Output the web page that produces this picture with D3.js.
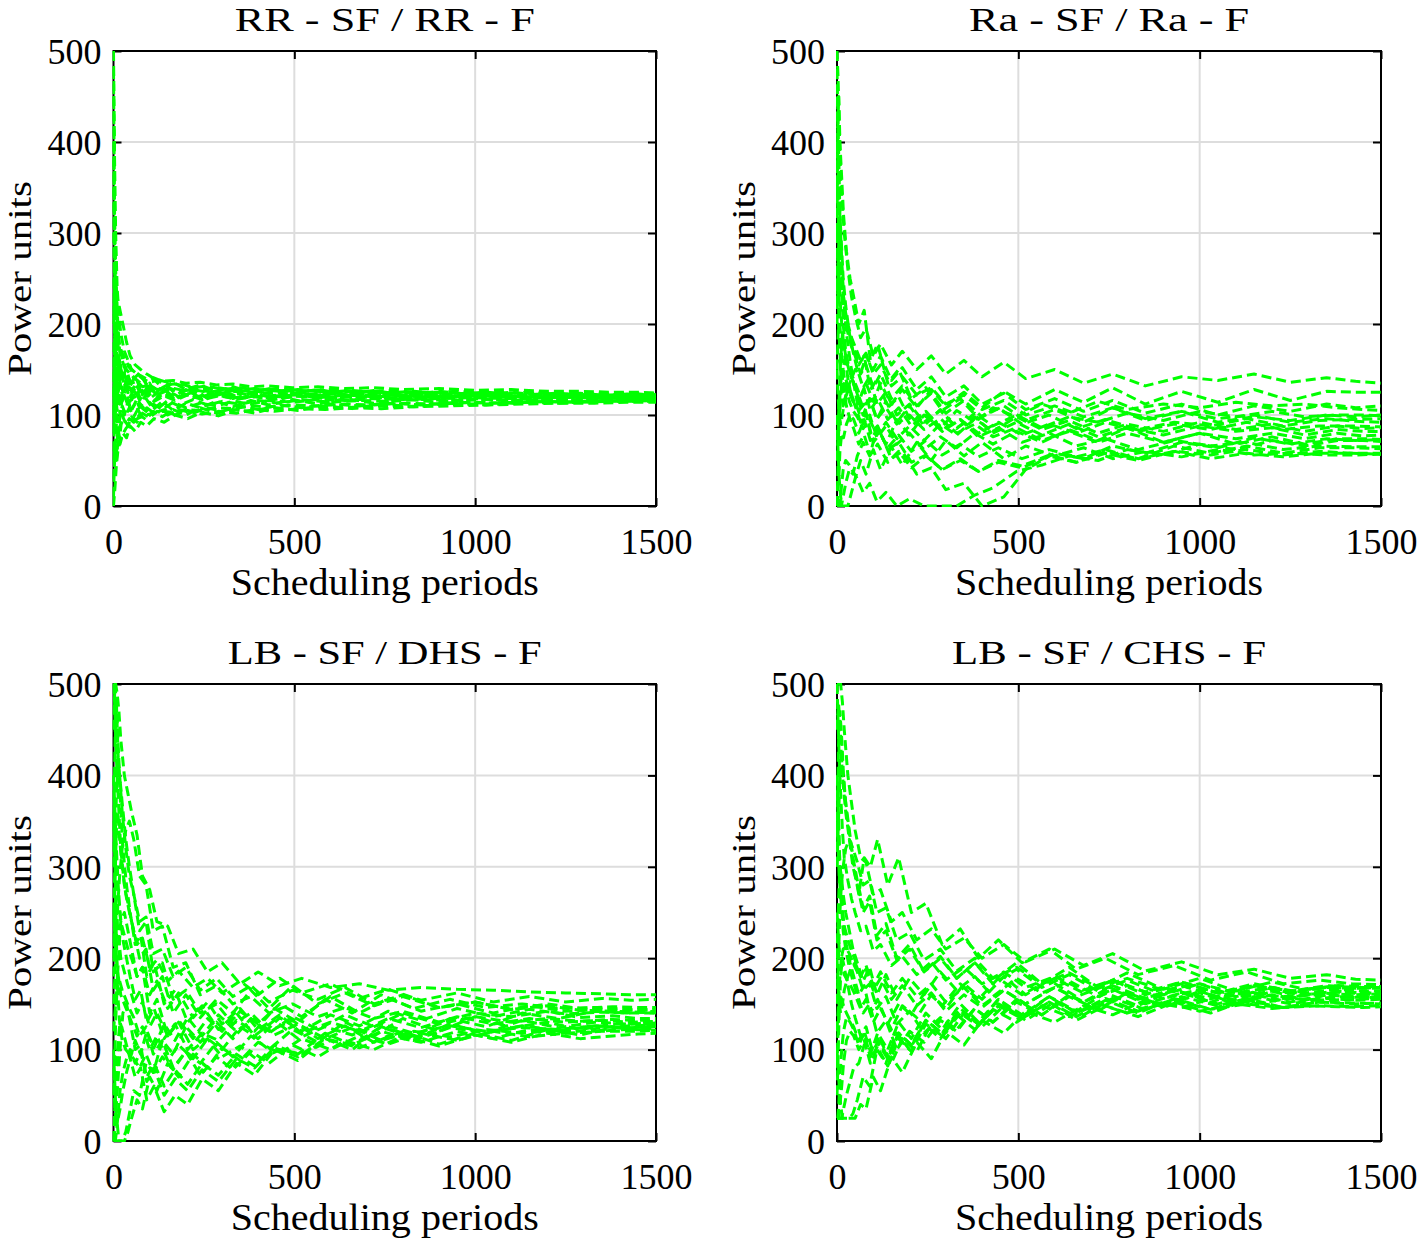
<!DOCTYPE html>
<html>
<head>
<meta charset="utf-8">
<script src="https://cdn.jsdelivr.net/npm/d3@7"></script>
<style>
  html, body { margin: 0; padding: 0; background: #fff; }
  svg { display: block; }
  text { font-family: "Liberation Serif", "Times New Roman", serif; fill: #000; }
</style>
</head>
<body>
<svg id="chart" width="1418" height="1238"></svg>
<script>
// ---------- data ----------
// three sampling grids (the runs were sampled at slightly different periods)
const xPointsA = [0,3,6,10,15,20,30,40,50,65,80,100,120,150,180,220,260,300,350,400,460,520,600,680,760,850,950,1050,1150,1250,1350,1430,1500];
const xPointsB = [0,4,8,12,17,24,34,44,56,72,90,110,135,165,200,240,285,330,380,430,495,565,640,720,800,900,1000,1100,1200,1290,1380,1450,1500];
const xPointsC = [0,2,5,8,13,18,26,36,46,60,75,92,112,140,170,205,245,290,340,390,445,510,585,660,740,830,930,1030,1130,1230,1330,1420,1500];
const xTicks = [0, 500, 1000, 1500];
const yTicks = [0, 100, 200, 300, 400, 500];
const panelTitles = ["RR - SF / RR - F", "Ra - SF / Ra - F", "LB - SF / DHS - F", "LB - SF / CHS - F"];
const xLabel = "Scheduling periods";
const yLabel = "Power units";

const rrSeries = [
  [500,380,300,240,210,190,170,160,150,145,140,136,138,133,135,130,132,128,130,127,129,126,128,125,127,124,126,123,125,122,123,121,122],
  [0,20,45,60,70,78,85,90,94,97,100,102,104,103,106,105,108,107,110,109,111,110,112,111,113,112,114,113,115,114,115,116,116],
  [450,350,260,230,225,215,200,180,165,155,150,145,140,137,134,131,128,130,127,129,126,128,125,127,124,126,123,125,122,124,121,123,122],
  [30,60,80,100,85,90,95,88,98,92,102,97,104,100,106,102,108,104,110,106,111,108,112,110,113,111,114,113,115,114,116,115,116],
  [300,220,180,150,160,140,150,130,140,125,132,122,130,120,128,119,126,118,124,120,123,119,122,120,121,119,121,120,121,119,120,120,120],
  [100,160,190,170,150,140,125,135,120,130,118,127,116,124,117,123,118,122,117,121,118,121,119,120,118,120,119,121,119,120,119,120,119],
  [60,90,120,105,125,110,100,115,105,118,108,114,106,116,110,117,111,115,112,116,113,117,114,116,115,117,116,117,116,117,116,117,117],
  [200,260,220,190,175,168,160,152,148,144,140,141,137,138,135,136,133,134,131,132,130,131,129,130,128,129,127,128,126,126,125,125,124],
  [150,80,110,140,120,100,125,115,105,112,100,108,102,106,100,105,101,104,102,106,104,107,106,108,107,109,110,111,112,113,113,114,114],
  [400,250,180,160,130,145,135,125,130,122,127,118,124,120,126,119,123,121,124,120,122,121,123,120,122,120,121,122,120,121,120,121,121],
  [250,150,100,80,95,110,100,108,98,110,104,112,106,114,108,113,110,115,112,116,114,117,116,118,117,118,119,118,119,120,119,120,119],
  [80,130,150,200,185,175,160,150,145,140,135,132,130,128,129,126,127,124,126,123,125,122,124,122,123,121,122,121,122,121,122,121,122],
  [350,200,160,135,150,138,145,132,128,133,124,130,122,127,120,125,119,123,118,122,120,123,121,122,120,122,121,122,120,121,120,121,120],
  [50,70,55,85,75,100,90,96,92,100,95,104,98,106,100,108,102,106,104,108,106,109,108,110,109,111,112,113,114,115,115,116,116],
  [180,120,100,130,110,135,118,130,115,126,114,123,115,121,116,122,117,121,118,120,117,121,118,120,119,118,120,119,118,120,119,118,118],
  [480,320,260,190,165,150,140,142,135,137,131,133,128,130,126,128,125,127,126,128,126,127,125,126,124,125,124,125,124,124,123,124,124],
  [220,180,240,200,170,160,148,155,140,146,134,140,130,136,128,133,126,131,125,129,124,128,123,127,122,126,122,125,121,124,121,123,122],
  [10,40,65,50,75,68,80,75,88,82,92,88,96,92,100,96,103,99,106,102,108,105,110,107,112,109,113,111,114,113,115,115,115],
  [380,280,200,170,140,155,130,145,125,138,122,135,120,132,119,130,118,128,118,126,117,125,118,124,118,123,119,122,119,121,120,121,120],
  [120,200,150,120,140,115,130,110,122,108,118,106,115,105,113,108,115,109,116,111,117,112,118,113,118,114,118,115,118,116,118,117,117]
];

const raSeries = [
  [500,470,420,360,330,300,260,230,210,185,195,165,178,155,170,150,165,145,160,142,158,140,150,135,145,132,142,138,145,136,141,137,135],
  [0,0,0,0,10,25,40,35,55,70,55,85,68,95,78,100,85,105,92,108,98,112,102,115,106,112,108,114,110,112,108,106,105],
  [300,420,450,400,360,320,280,250,230,200,215,160,178,135,150,118,130,105,118,96,108,90,100,85,95,84,92,88,96,88,94,95,96],
  [100,60,30,10,0,0,0,15,30,50,35,62,40,65,45,70,50,72,55,70,52,66,55,64,52,60,54,62,56,58,56,56,57],
  [200,280,320,290,250,220,190,170,150,130,142,112,125,100,112,92,105,86,98,80,92,78,90,76,86,78,88,82,86,78,84,82,82],
  [400,380,340,300,260,230,200,190,175,155,165,128,140,108,120,92,104,84,95,76,86,70,80,66,74,62,72,66,70,62,66,65,65],
  [50,80,120,160,190,170,140,120,110,92,102,70,80,52,60,35,42,18,25,0,10,40,58,52,66,58,70,64,75,68,74,72,73],
  [250,220,180,150,130,140,125,115,120,100,118,95,115,92,110,88,106,85,102,88,100,86,98,92,102,94,104,98,104,98,100,100,99],
  [0,10,30,60,80,75,90,100,95,80,95,72,85,64,78,60,72,56,68,54,64,52,62,54,62,52,60,56,62,56,60,58,58],
  [350,320,290,260,240,220,200,185,175,160,168,145,155,132,142,122,130,112,122,106,116,100,110,98,108,94,104,96,100,92,96,93,92],
  [150,200,170,130,110,120,130,118,108,90,100,75,88,68,80,62,76,64,80,68,82,70,84,72,86,70,80,68,76,68,74,74,73],
  [450,420,380,320,270,230,190,160,135,105,112,80,88,62,70,48,56,40,50,38,48,42,55,48,60,52,66,58,66,58,64,64,63],
  [100,70,90,120,140,160,155,145,135,120,135,115,135,112,128,108,128,110,125,108,126,112,128,114,130,112,126,114,128,116,126,125,125],
  [0,0,0,20,40,50,45,38,30,15,25,5,15,0,8,0,0,0,12,20,38,45,55,50,62,56,68,62,72,66,72,72,71],
  [220,280,260,230,200,180,160,145,135,118,128,105,118,95,108,88,100,82,95,80,92,78,90,80,92,82,90,84,92,84,88,88,87],
  [380,340,300,260,230,210,190,175,165,145,155,130,145,118,132,110,124,102,116,98,110,94,106,92,108,96,104,92,98,94,100,98,100],
  [480,400,320,250,200,170,150,135,125,108,118,96,108,90,100,84,96,80,90,76,86,72,82,70,80,70,80,74,80,74,80,77,78],
  [0,30,80,120,150,130,110,95,85,68,78,56,68,48,60,42,55,40,52,38,50,44,56,48,58,50,60,52,58,54,58,58,57],
  [150,120,100,90,100,115,130,140,150,145,165,150,165,138,152,128,142,120,132,112,124,106,118,104,116,102,112,100,110,104,112,108,110],
  [300,250,200,170,150,130,115,105,98,85,95,78,92,74,88,72,90,78,96,82,98,84,94,80,90,82,92,84,90,82,88,85,86]
];

const dhsSeries = [
  [500,500,500,490,470,440,400,380,360,335,290,275,240,235,205,210,185,195,172,185,170,178,168,172,165,168,166,165,163,162,161,160,160],
  [0,0,0,0,0,0,10,30,55,50,85,75,110,95,125,108,130,112,134,118,136,122,138,125,140,128,136,130,134,131,133,132,132],
  [300,380,450,480,420,380,320,280,250,215,225,180,195,150,165,130,148,122,140,115,132,112,125,116,128,118,126,120,124,122,126,124,125],
  [100,70,40,20,0,0,0,10,25,45,35,70,55,85,70,95,80,102,88,108,96,112,100,115,106,118,110,120,114,118,120,120,121],
  [200,280,340,360,330,300,270,250,230,200,210,165,180,140,160,135,155,140,165,145,170,150,162,148,158,146,152,144,150,145,147,146,146],
  [400,380,350,320,280,250,220,200,180,155,165,130,145,112,128,100,118,110,132,120,145,130,155,140,160,145,155,146,150,145,146,144,144],
  [50,90,130,170,210,240,250,230,210,180,190,140,155,115,130,100,112,92,104,88,100,95,110,102,115,108,120,112,122,118,124,126,127],
  [150,180,220,260,290,320,340,350,330,290,280,230,235,190,195,160,170,150,158,140,150,136,146,134,142,130,140,136,142,135,137,134,134],
  [0,5,15,40,70,100,140,150,130,100,105,65,80,50,68,55,78,65,90,80,102,92,112,105,120,110,124,118,126,121,126,124,125],
  [250,230,210,190,175,160,150,140,130,115,125,100,115,88,105,90,112,100,125,112,135,120,138,126,142,132,145,136,144,139,141,140,140],
  [450,500,480,440,400,360,320,290,270,240,245,205,210,180,190,165,178,158,170,152,165,155,168,150,160,146,152,144,148,143,142,141,140],
  [80,50,30,20,25,35,55,75,90,110,95,120,102,128,110,135,115,138,120,134,116,128,112,124,110,120,114,122,118,121,120,122,121],
  [350,320,300,280,260,240,225,210,200,180,190,160,175,145,162,135,152,128,145,122,138,118,130,120,134,124,136,128,134,130,132,130,131],
  [120,140,160,180,175,165,155,145,135,115,125,95,110,80,98,72,92,78,98,85,105,92,110,100,115,104,116,108,118,112,115,117,118],
  [0,20,50,80,110,130,120,105,90,70,80,45,60,32,50,40,68,55,85,72,100,88,112,100,125,115,134,125,140,134,142,140,142],
  [500,480,440,400,360,320,280,260,240,215,222,190,198,175,186,168,178,162,175,160,178,162,172,156,166,154,162,152,158,152,156,154,155],
  [250,300,380,420,400,370,330,300,270,230,240,185,195,155,165,140,150,128,140,120,132,112,126,108,120,106,118,110,122,116,124,122,123],
  [0,0,0,10,30,55,75,90,100,85,98,70,85,60,78,62,85,72,95,82,105,95,118,105,125,112,128,118,132,124,130,128,129],
  [180,220,260,240,220,200,185,170,160,140,152,125,140,115,132,112,134,120,142,128,150,136,158,140,156,142,150,140,148,142,144,143,143],
  [400,300,220,160,130,110,100,95,90,80,95,75,92,78,98,85,108,92,115,100,122,108,130,115,134,120,136,124,130,122,128,128,127]
];

const chsSeries = [
  [500,500,500,500,480,450,400,370,340,310,305,270,275,240,250,220,232,210,222,200,215,196,210,192,205,186,196,182,188,178,182,177,176],
  [25,25,25,25,25,25,25,30,45,70,60,100,85,118,100,128,112,138,122,144,130,148,136,150,140,152,142,150,145,148,147,146,147],
  [300,380,450,470,440,400,360,330,300,270,310,300,330,280,310,250,260,215,232,200,220,195,210,188,200,182,192,176,185,172,176,172,171],
  [100,80,60,40,25,25,25,25,25,40,35,70,55,92,75,108,90,120,105,132,118,142,130,148,138,154,146,158,150,156,154,155,156],
  [200,260,300,290,270,250,230,210,195,175,190,160,182,155,178,160,185,165,180,158,178,162,175,158,170,156,166,158,164,160,163,162,163],
  [400,380,340,300,270,240,215,195,180,160,170,140,155,128,150,138,165,148,172,155,178,160,176,158,170,155,164,156,162,158,160,159,159],
  [50,90,140,180,200,190,170,150,135,115,125,95,110,85,112,98,128,112,140,125,148,132,152,138,156,144,158,148,158,150,156,154,155],
  [150,200,250,280,300,320,330,320,305,280,285,250,255,220,228,198,210,186,200,178,190,172,184,168,178,165,172,162,168,162,166,164,164],
  [25,25,25,40,60,85,110,120,115,100,110,85,102,82,112,98,128,115,140,126,150,136,158,142,162,148,166,152,164,156,162,160,161],
  [250,230,210,200,190,182,175,168,160,145,155,130,145,122,148,135,160,145,172,155,180,160,178,162,176,160,174,162,170,164,168,167,168],
  [450,480,460,420,390,360,330,300,280,250,262,220,230,198,210,185,200,178,195,175,195,172,190,168,184,166,178,164,174,166,170,169,169],
  [80,110,140,160,155,148,140,132,125,110,120,98,112,92,118,105,132,118,145,128,155,134,152,132,148,136,152,140,154,146,152,150,151],
  [350,320,290,270,250,235,220,208,198,180,188,165,178,155,170,148,162,142,160,146,165,150,168,152,170,156,170,158,170,162,168,167,167],
  [120,150,180,200,210,212,205,195,185,165,172,145,158,128,142,118,135,122,145,130,155,138,160,142,162,146,162,150,160,154,158,157,157],
  [25,25,25,25,25,35,50,65,80,85,105,95,118,100,130,112,140,122,150,130,155,138,158,140,156,142,154,144,150,146,148,147,148],
  [500,460,420,380,340,310,285,265,250,230,235,208,215,192,202,182,196,176,190,172,185,168,180,165,176,163,174,162,172,164,170,168,168],
  [300,350,400,420,400,370,340,310,285,255,268,225,238,200,215,185,202,178,195,172,188,168,182,164,176,160,172,158,168,160,164,162,162],
  [25,25,40,70,100,120,135,130,122,105,118,92,108,90,118,105,132,118,142,128,148,134,152,136,154,140,156,144,156,146,152,151,150],
  [200,170,150,140,150,165,180,190,195,180,192,170,185,162,178,158,172,152,168,148,165,150,168,152,166,150,162,150,160,152,160,157,158],
  [400,350,300,260,230,210,190,175,160,140,150,118,132,100,120,108,132,120,145,130,152,138,158,144,162,148,164,150,164,154,163,161,160]
];

const panelSeries = [rrSeries, raSeries, dhsSeries, chsSeries];
const xGrids = [xPointsA, xPointsB, xPointsC];

// ---------- layout ----------
const panels = [
  { x0: 113.5, x1: 656, y0: 51, y1: 506, titleW: 300, yLabX: 30.5 },
  { x0: 837, x1: 1381, y0: 51, y1: 506, titleW: 280, yLabX: 754.5 },
  { x0: 113.5, x1: 656, y0: 684, y1: 1141, titleW: 314, yLabX: 30.5 },
  { x0: 837, x1: 1381, y0: 684, y1: 1141, titleW: 314, yLabX: 754.5 }
];

const svg = d3.select("#chart");
const lineColor = "#00ff00";
const fmt = d3.format("d");

panels.forEach((p, i) => {
  const w = p.x1 - p.x0, h = p.y1 - p.y0;
  const x = d3.scaleLinear().domain([0, 1500]).range([0, w]);
  const y = d3.scaleLinear().domain([0, 500]).range([h, 0]);
  const g = svg.append("g").attr("transform", `translate(${p.x0},${p.y0})`);

  // grid
  g.append("g").selectAll("line").data(xTicks.slice(1, -1)).join("line")
    .attr("x1", d => x(d)).attr("x2", d => x(d)).attr("y1", 0).attr("y2", h)
    .attr("stroke", "#dddddd").attr("stroke-width", 2);
  g.append("g").selectAll("line").data(yTicks.slice(1, -1)).join("line")
    .attr("x1", 0).attr("x2", w).attr("y1", d => y(d)).attr("y2", d => y(d))
    .attr("stroke", "#dddddd").attr("stroke-width", 2);

  // axes (ticks inward, labels)
  const ax = g.append("g").attr("transform", `translate(0,${h})`)
    .call(d3.axisBottom(x).tickValues(xTicks).tickFormat(fmt).tickSizeInner(-8).tickSizeOuter(0).tickPadding(0));
  ax.select(".domain").remove();
  ax.selectAll("text").attr("dy", null).attr("y", 48).style("font-size", "36px").style("font-family", '"Liberation Serif", serif');
  ax.selectAll("line").attr("stroke", "#000").attr("stroke-width", 2);

  const ay = g.append("g")
    .call(d3.axisLeft(y).tickValues(yTicks).tickFormat(fmt).tickSizeInner(-8).tickSizeOuter(0).tickPadding(0));
  ay.select(".domain").remove();
  ay.selectAll("text").attr("x", -12).attr("dy", "0.34em").style("font-size", "36px").style("font-family", '"Liberation Serif", serif');
  ay.selectAll("line").attr("stroke", "#000").attr("stroke-width", 2);

  // top & right ticks
  const at = g.append("g").call(d3.axisTop(x).tickValues(xTicks).tickSizeInner(-8).tickSizeOuter(0).tickFormat(""));
  at.select(".domain").remove();
  at.selectAll("line").attr("stroke", "#000").attr("stroke-width", 2);
  const ar = g.append("g").attr("transform", `translate(${w},0)`)
    .call(d3.axisRight(y).tickValues(yTicks).tickSizeInner(-8).tickSizeOuter(0).tickFormat(""));
  ar.select(".domain").remove();
  ar.selectAll("line").attr("stroke", "#000").attr("stroke-width", 2);

  // box
  g.append("rect").attr("x", 0).attr("y", 0).attr("width", w).attr("height", h)
    .attr("fill", "none").attr("stroke", "#000").attr("stroke-width", 2);

  // data
  const clipId = "clip" + i;
  g.append("clipPath").attr("id", clipId).append("rect")
    .attr("x", -1).attr("y", -1).attr("width", w + 2).attr("height", h + 2);
  g.append("g").attr("clip-path", `url(#${clipId})`)
    .selectAll("path").data(panelSeries[i]).join("path")
    .attr("d", (d, s) => {
      const xs = xGrids[s % 3];
      return d3.line().x((v, k) => x(xs[k])).y(v => y(v))(d);
    })
    .attr("fill", "none").attr("stroke", lineColor).attr("stroke-width", 3)
    .attr("stroke-dasharray", "10,5").attr("stroke-linejoin", "round");

  // titles & labels
  g.append("text").attr("x", w / 2).attr("y", -20).attr("text-anchor", "middle")
    .style("font-size", "34px").attr("textLength", p.titleW).attr("lengthAdjust", "spacingAndGlyphs")
    .text(panelTitles[i]);
  g.append("text").attr("x", w / 2).attr("y", h + 89).attr("text-anchor", "middle")
    .style("font-size", "37px").attr("textLength", 308).attr("lengthAdjust", "spacingAndGlyphs")
    .text(xLabel);
  g.append("text").attr("transform", `translate(${p.yLabX - p.x0},${h / 2}) rotate(-90)`)
    .attr("text-anchor", "middle")
    .style("font-size", "34px").attr("textLength", 195).attr("lengthAdjust", "spacingAndGlyphs")
    .text(yLabel);
});
</script>
</body>
</html>
